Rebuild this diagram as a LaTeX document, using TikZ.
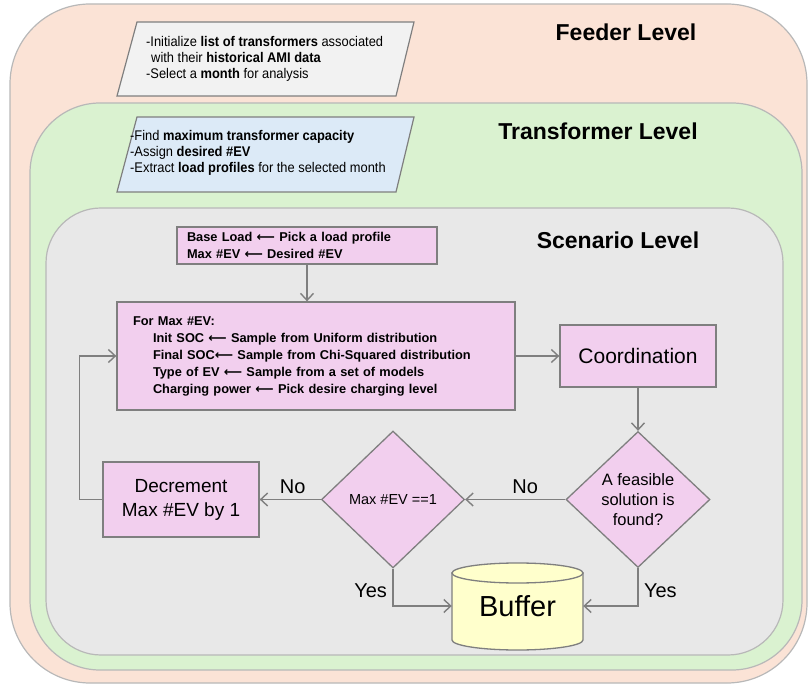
\documentclass[tikz,border=0pt]{standalone}
\usepackage{fontspec}
\setmainfont{Liberation Sans}
\newfontfamily\narrowfont[FakeStretch=0.92]{Liberation Sans}
\newfontfamily\arrowfont{DejaVu Sans}
\usetikzlibrary{shapes.geometric,arrows.meta}

\definecolor{feederfill}{HTML}{FBE3D6}
\definecolor{trafofill}{HTML}{DAF2D0}
\definecolor{scenfill}{HTML}{E8E8E8}
\definecolor{notefill}{HTML}{F2F2F2}
\definecolor{bluefill}{HTML}{DCEAF7}
\definecolor{pinkfill}{HTML}{F2CFEE}
\definecolor{bufferfill}{HTML}{FFFFCC}
\definecolor{edgegray}{HTML}{7F7F7F}

\newcommand\larr{{\arrowfont\bfseries ⟵}}

\begin{document}
\begin{tikzpicture}[
  x=1pt, y=-1pt,
  levelbox/.style={draw=black!28, line width=1.2},
  leveltitle/.style={font=\fontsize{23}{26}\selectfont\bfseries},
  notebox/.style={draw=edgegray, line width=1.2},
  notetext/.style={font=\narrowfont\fontsize{14}{16}\selectfont, align=left, anchor=west, inner sep=0},
  flowbox/.style={draw=edgegray, fill=pinkfill, line width=1.3},
  boldtext/.style={font=\fontsize{12.8}{17}\selectfont\bfseries, align=left},
  decision/.style={flowbox, diamond, inner sep=0, align=center},
  link/.style={draw=edgegray, line width=1.4, -{Straight Barb[length=7pt,width=13pt]}},
  answer/.style={font=\fontsize{20}{24}\selectfont},
]
\useasboundingbox (0,0) rectangle (809,684);

% levels
\draw[levelbox, fill=feederfill, rounded corners=80pt] (10,4) rectangle (807,683);
\draw[levelbox, fill=trafofill, rounded corners=70pt] (30,103) rectangle (802,670);
\draw[levelbox, fill=scenfill, rounded corners=55pt] (46,208) rectangle (783,655);

\node[leveltitle] (feeder) at (626,32) {Feeder Level};
\node[leveltitle] (trafo) at (598,131) {Transformer Level};
\node[leveltitle] (scen) at (618,240) {Scenario Level};

% inputs
\draw[notebox, fill=notefill] (137,22) -- (414,22) -- (396,96) -- (117,96) -- cycle;
\node[notetext] (init) at (146,59) {-Initialize \textbf{list of transformers} associated\\
  \hspace*{5pt}with their \textbf{historical AMI data}\\
  -Select a \textbf{month} for analysis};

\draw[notebox, fill=bluefill] (137,117) -- (414,117) -- (396,192) -- (117,192) -- cycle;
\node[notetext] (task) at (130,153) {-Find \textbf{maximum transformer capacity}\\
  -Assign \textbf{desired \#EV}\\
  -Extract \textbf{load profiles} for the selected month};

% flow
\node[flowbox, boldtext, text width=240, inner xsep=10, inner ysep=2, minimum height=37] (base) at (307,245.5)
  {Base Load \larr\ Pick a load profile\\ Max \#EV \larr\ Desired \#EV};

\node[flowbox, boldtext, text width=366, inner xsep=16, minimum height=108] (loop) at (316,356)
  {For Max \#EV:\\
   \hspace*{20pt}Init SOC \larr\ Sample from Uniform distribution\\
   \hspace*{20pt}Final SOC\larr\ Sample from Chi-Squared distribution\\
   \hspace*{20pt}Type of EV \larr\ Sample from a set of models\\
   \hspace*{20pt}Charging power \larr\ Pick desire charging level};

\node[flowbox, minimum width=156, minimum height=62, font=\fontsize{21}{25}\selectfont] (coord) at (638,356) {Coordination};

\node[decision, minimum width=144, minimum height=136, font=\fontsize{16.5}{20}\selectfont] (feasible) at (638,499.5)
  {A feasible\\solution is\\found?};
\node[decision, minimum width=143, minimum height=137, font=\fontsize{14.5}{17}\selectfont] (maxev) at (393,499.5) {Max \#EV ==1};

\node[flowbox, minimum width=156, minimum height=75, align=center, font=\fontsize{19}{24}\selectfont] (decr) at (181,499.5)
  {Decrement\\Max \#EV by 1};

% buffer
\draw[draw=edgegray, line width=1.3, fill=bufferfill] (452,573) -- (452,640)
  arc[start angle=180, end angle=0, x radius=65.5, y radius=10] -- (583,573) -- cycle;
\draw[draw=edgegray, line width=1.3, fill=bufferfill] (517.5,573) ellipse [x radius=65.5, y radius=10];
\node[font=\fontsize{29}{32}\selectfont, minimum width=131, minimum height=40, inner sep=0] (buffer) at (517.5,606) {Buffer};

% connectors
\draw[link] (base.south) -- (base.south |- loop.north);
\draw[link] (loop.east) -- (coord.west);
\draw[link] (coord.south) -- (feasible.north);
\draw[link] (feasible.west) -- node[answer, above=2pt, pos=0.4] (no1) {No} (maxev.east);
\draw[link] (maxev.west) -- node[answer, above=2pt, pos=0.46] (no2) {No} (decr.east);
\draw[link] (decr.west) -- ++(-23,0) |- (loop.west);
\draw[link] (maxev.south) |- node[answer, left=2pt, pos=0.3] (yes1) {Yes} (buffer.west);
\draw[link] (feasible.south) |- node[answer, right=2pt, pos=0.3] (yes2) {Yes} (buffer.east);
\end{tikzpicture}
\end{document}
